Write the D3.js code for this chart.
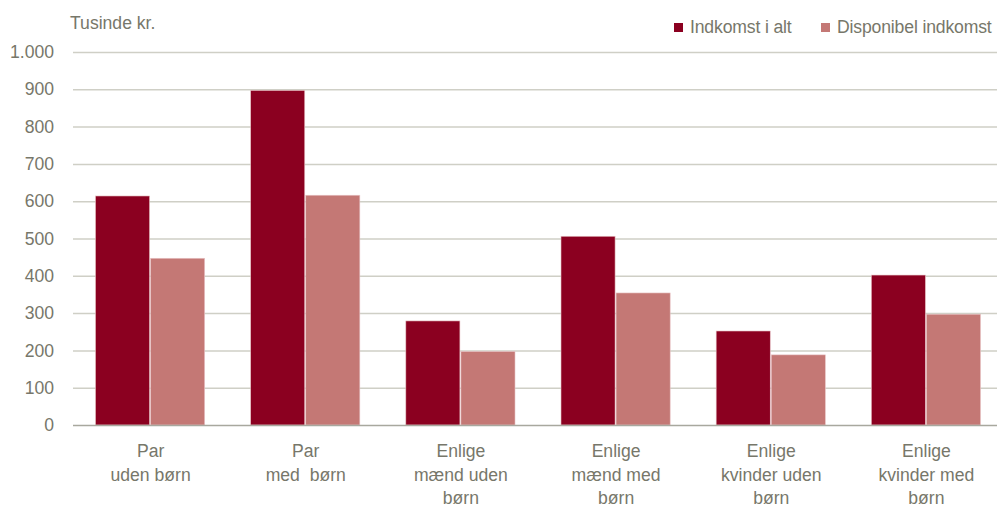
<!DOCTYPE html>
<html>
<head>
<meta charset="utf-8">
<script src="https://cdn.jsdelivr.net/npm/d3@7"></script>
<style>
  body{margin:0;background:#fff;}
  text{font-family:"Liberation Sans",Arial,sans-serif;fill:#77776a;}
</style>
</head>
<body>
<div id="chart"></div>
<script>
// data
const categories = [
  ["Par","uden børn"],
  ["Par","med  børn"],
  ["Enlige","mænd uden","børn"],
  ["Enlige","mænd med","børn"],
  ["Enlige","kvinder uden","børn"],
  ["Enlige","kvinder med","børn"]
];
const seriesNames = ["Indkomst i alt","Disponibel indkomst"];
const indkomstIAlt = [614, 897, 279, 506, 252, 402];
const disponibel = [447, 616, 197, 354, 188, 297];
const yTicks = [0,100,200,300,400,500,600,700,800,900,1000];
const colors = ["#8b0020","#c47875"];

const width = 997, height = 507;
const margin = {left:73, right:-7, top:52, bottom:82};

let svg = d3.select("#chart").append("svg")
            .attr("width",width)
            .attr("height",height);

let xScale = d3.scaleBand()
                .domain(d3.range(categories.length))
                .range([margin.left, width - margin.right])
                .paddingInner(0.29)
                .paddingOuter(0.145);

let subScale = d3.scaleBand()
                .domain([0,1])
                .range([0, xScale.bandwidth()]);

let yScale = d3.scaleLinear()
                .domain([0,1000])
                .range([height - margin.bottom, margin.top]);

// gridlines
svg.append("g")
    .selectAll("line")
    .data(yTicks.filter(d => d > 0))
    .join("line")
    .attr("x1",margin.left)
    .attr("x2",width)
    .attr("y1",d => yScale(d) + 0.5)
    .attr("y2",d => yScale(d) + 0.5)
    .attr("stroke","#cfcfc6")
    .attr("stroke-width",1.5);

// y axis tick labels
let yAxis = d3.axisLeft(yScale)
                .tickValues(yTicks)
                .tickSize(0)
                .tickPadding(0)
                .tickFormat(d => d3.format(",")(d).replace(",","."));

svg.append("g")
    .attr("transform","translate(" + (margin.left - 19) + ",0)")
    .call(yAxis)
    .call(g => g.select(".domain").remove())
    .selectAll("text")
    .attr("font-size",17.6)
    .attr("font-family",null)
    .attr("fill",null);

// bars
let rows = [indkomstIAlt, disponibel];
rows.forEach((vals,s) => {
    svg.append("g")
        .selectAll("rect")
        .data(vals)
        .join("rect")
        .attr("x",(d,i) => xScale(i) + subScale(s))
        .attr("y",d => yScale(d))
        .attr("width",subScale.bandwidth() - 1)
        .attr("height",d => yScale(0) - yScale(d))
        .attr("fill",colors[s])
        .attr("stroke","#e8c4c6")
        .attr("stroke-width",0.6);
});

// x axis line
svg.append("line")
    .attr("x1",margin.left)
    .attr("x2",width)
    .attr("y1",yScale(0) + 0.5)
    .attr("y2",yScale(0) + 0.5)
    .attr("stroke","#a8a89e")
    .attr("stroke-width",1.5);

// category labels
let labels = svg.append("g")
    .selectAll("text")
    .data(categories)
    .join("text")
    .attr("text-anchor","middle")
    .attr("font-size",17.6)
    .style("white-space","pre")
    .attr("transform",(d,i) => "translate(" + (xScale(i) + xScale.bandwidth()/2) + ",0)");

labels.selectAll("tspan")
    .data(d => d)
    .join("tspan")
    .attr("x",0)
    .attr("y",(d,j) => 457 + j*23.5)
    .text(d => d);

// axis title
svg.append("text")
    .attr("x",70)
    .attr("y",29)
    .attr("font-size",17.6)
    .text("Tusinde kr.");

// legend
const legendX = [674, 821];
let legend = svg.append("g")
    .selectAll("g")
    .data(seriesNames)
    .join("g")
    .attr("transform",(d,i) => "translate(" + legendX[i] + ",23)");

legend.append("rect")
    .attr("width",9)
    .attr("height",9)
    .attr("fill",(d,i) => colors[i]);

legend.append("text")
    .attr("x",16)
    .attr("y",10)
    .attr("font-size",17.6)
    .attr("letter-spacing",-0.15)
    .text(d => d);
</script>
</body>
</html>
